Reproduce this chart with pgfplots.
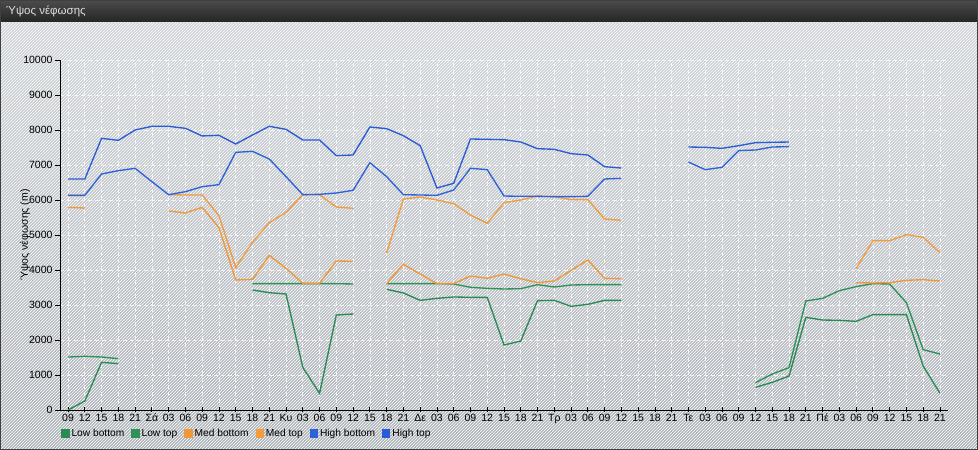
\documentclass[border=0pt]{standalone}
\usepackage{fontspec}
\setmainfont{Liberation Sans}
\usepackage{pgfplots}
\pgfplotsset{compat=1.18}
\usepackage{pgfplotstable}
\usetikzlibrary{patterns}

\definecolor{lowb}{HTML}{2A8A55}
\definecolor{lowt}{HTML}{2E9158}
\definecolor{medb}{HTML}{F2963A}
\definecolor{medt}{HTML}{F49B3E}
\definecolor{highb}{HTML}{2E62DA}
\definecolor{hight}{HTML}{2A5CD8}
\definecolor{panelTop}{HTML}{CFD3D7}
\definecolor{panelBot}{HTML}{AEB3B9}
\definecolor{barTop}{HTML}{4C4C4C}
\definecolor{barBot}{HTML}{252525}

% x = step (0 = 09h first day), then Low bottom, Low top, Med bottom, Med top, High bottom, High top
\pgfplotstableread{
x  lb    lt    mb    mt    hb    ht
0  0     1514  5790  6133  6133  6600
1  257   1533  5771  6133  6133  6600
2  1362  1514  nan   nan   6743  7762
3  1324  1467  nan   nan   6838  7705
4  nan   nan   nan   nan   6905  8000
5  nan   nan   nan   nan   6524  8105
6  nan   nan   5686  6152  6152  8105
7  nan   nan   5629  6143  6238  8048
8  nan   nan   5790  6143  6381  7830
9  nan   nan   5210  5552  6438  7848
10 nan   nan   3714  4067  7362  7600
11 3429  3610  3733  4790  7390  7857
12 3352  3610  4419  5352  7171  8105
13 3314  3610  4048  5648  6667  8019
14 1219  3610  3619  6152  6152  7714
15 476   3610  3619  6152  6162  7714
16 2714  3610  4257  5800  6200  7267
17 2743  3600  4248  5762  6276  7286
18 nan   nan   nan   nan   7067  8086
19 3448  3610  3610  4486  6667  8038
20 3343  3610  4162  6029  6152  7838
21 3133  3610  3886  6086  6143  7552
22 3190  3610  3610  6000  6133  6343
23 3229  3600  3610  5895  6286  6476
24 3219  3505  3829  5571  6905  7743
25 3219  3476  3762  5333  6867  7733
26 1857  3457  3886  5924  6114  7724
27 1971  3467  3752  6000  6105  7657
28 3124  3581  3638  6114  6105  7467
29 3133  3514  3686  6095  6095  7448
30 2962  3571  3990  6010  6095  7324
31 3019  3581  4286  6010  6105  7286
32 3133  3581  3762  5457  6600  6952
33 3133  3581  3752  5419  6619  6914
34 nan   nan   nan   nan   nan   nan
35 nan   nan   nan   nan   nan   nan
36 nan   nan   nan   nan   nan   nan
37 nan   nan   nan   nan   7086  7514
38 nan   nan   nan   nan   6867  7505
39 nan   nan   nan   nan   6933  7476
40 nan   nan   nan   nan   7410  7552
41 648   781   nan   nan   7429  7638
42 790   1029  nan   nan   7514  7648
43 971   1210  nan   nan   7524  7657
44 2648  3114  nan   nan   nan   nan
45 2571  3190  nan   nan   nan   nan
46 2562  3410  nan   nan   nan   nan
47 2533  3524  3638  4038  nan   nan
48 2724  3610  3629  4838  nan   nan
49 2724  3600  3638  4838  nan   nan
50 2724  3067  3705  5010  nan   nan
51 1257  1724  3724  4933  nan   nan
52 476   1600  3686  4495  nan   nan
}\cloud

\begin{document}
\begin{tikzpicture}[x=1pt,y=1pt]
% panel and title bar
\shade[top color=panelTop, bottom color=panelBot] (0,0) rectangle (978,428);
\fill[pattern=north east lines, pattern color=white, fill opacity=0.28] (0,0) rectangle (978,428);
\shade[top color=barTop, bottom color=barBot] (0,428) rectangle (978,450);
\node[anchor=west, text=white!88!black, font=\fontsize{11.5}{13}\selectfont, inner sep=0pt] at (6,438.5) {Ύψος νέφωσης};
\draw[black!75, line width=1pt] (0.5,0.5) rectangle (977.5,449.5);

\begin{axis}[
    at={(60pt,40pt)}, anchor=south west,
    scale only axis,
    width=888pt, height=350pt,
    xmin=-0.48, xmax=52.48,
    ymin=0, ymax=10000,
    axis x line=bottom, axis y line=left,
    axis line style={-, black, line width=0.8pt},
    xtick={0,...,52},
    xticklabels={09,12,15,18,21,Σά,03,06,09,12,15,18,21,Κυ,03,06,09,12,15,18,21,Δε,03,06,09,12,15,18,21,Τρ,03,06,09,12,15,18,21,Τε,03,06,09,12,15,18,21,Πέ,03,06,09,12,15,18,21},
    ytick={0,1000,...,10000},
    scaled y ticks=false,
    /pgf/number format/.cd, 1000 sep={}, assume math mode=true, /pgfplots/.cd,
    tick style={black, line width=0.8pt},
    xtick align=center, ytick align=outside,
    major tick length=5pt,
    tick label style={font=\fontsize{10.5}{12}\selectfont, black},
    xticklabel style={yshift=2pt},
    yticklabel style={xshift=1pt},
    grid=major,
    major grid style={white, opacity=0.75, line width=0.7pt, dash pattern=on 4pt off 3pt},
    ylabel={Ύψος νέφωσης (m)},
    every axis y label/.style={at={(axis description cs:0,0.5)}, xshift=-35pt, rotate=90, anchor=center, font=\fontsize{10.5}{12}\selectfont},
    unbounded coords=jump,
    every axis plot/.append style={line width=1.35pt, mark=none},
    legend columns=-1,
    legend style={at={(axis description cs:0,0)}, anchor=north west, xshift=-2pt, yshift=-15pt,
        draw=none, fill=none, font=\fontsize{10.2}{12}\selectfont,
        /tikz/every even column/.append style={column sep=5pt}},
    legend image code/.code={\fill[#1] (0pt,-3.5pt) rectangle (7pt,3.5pt);},
]
\addplot[lowb] table[x=x, y=lb] {\cloud};
\addplot[lowt] table[x=x, y=lt] {\cloud};
\addplot[medb] table[x=x, y=mb] {\cloud};
\addplot[medt] table[x=x, y=mt] {\cloud};
\addplot[highb] table[x=x, y=hb] {\cloud};
\addplot[hight] table[x=x, y=ht] {\cloud};
\legend{Low bottom, Low top, Med bottom, Med top, High bottom, High top}
\end{axis}
\end{tikzpicture}
\end{document}
